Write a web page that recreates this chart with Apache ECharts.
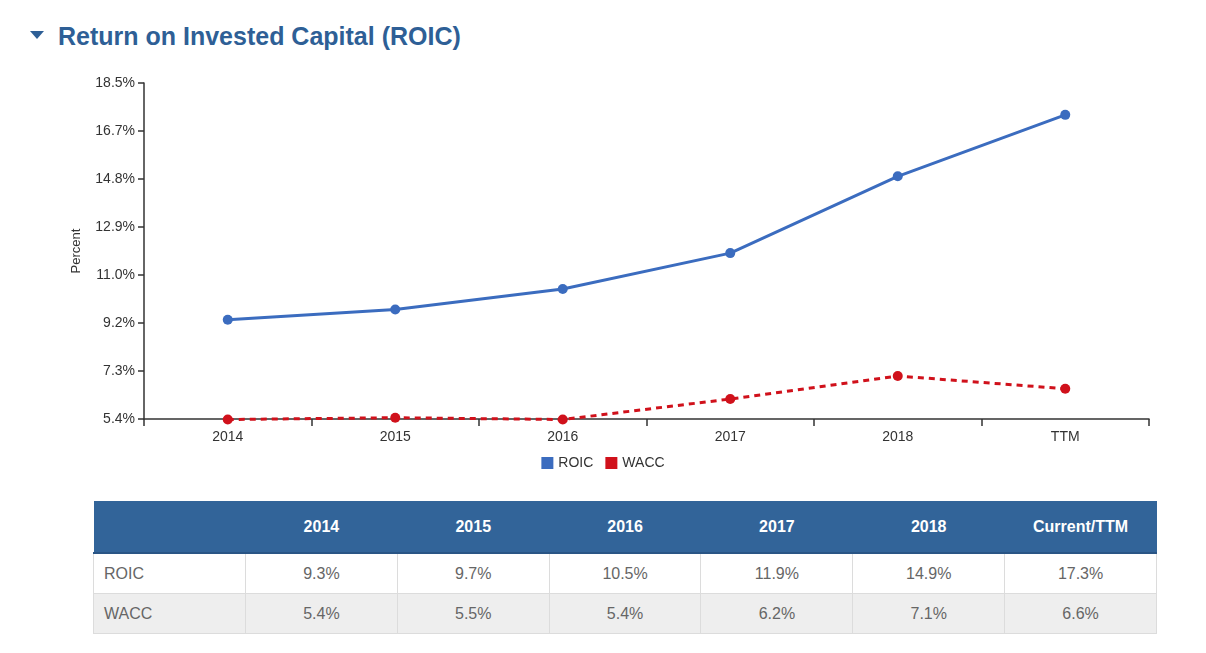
<!DOCTYPE html>
<html>
<head>
<meta charset="utf-8">
<script src="https://cdn.jsdelivr.net/npm/echarts@6/dist/echarts.min.js"></script>
<style>
  html, body { margin: 0; padding: 0; background: #fff; width: 1206px; height: 653px; overflow: hidden; font-family: "Liberation Sans", Arial, sans-serif; }
  #title { position: absolute; left: 30px; top: 22px; color: #2e5f96; font-weight: bold; font-size: 25px; font-family: "Liberation Sans", Arial, sans-serif; }
  #title .tri { display: inline-block; width: 0; height: 0; border-left: 7px solid transparent; border-right: 7px solid transparent; border-top: 8px solid #2e5f96; margin-right: 14px; vertical-align: middle; position: relative; top: -3px; }
  #chart { position: absolute; left: 0; top: 60px; width: 1206px; height: 425px; }
  #tbl { position: absolute; left: 93px; top: 501px; width: 1064px; border-collapse: collapse; font-family: "Liberation Sans", Arial, sans-serif; font-size: 16px; table-layout: fixed; }
  #tbl th { background: #326499; color: #fff; font-weight: bold; height: 51px; padding: 0; text-align: center; border-bottom: 2px solid #2a5585; }
  #tbl td { height: 39px; padding: 0; color: #666; text-align: center; border: 1px solid #dcdcdc; }
  #tbl td.lab { text-align: left; padding-left: 10px; }
  #tbl tr.alt td { background: #eeeeee; }
</style>
</head>
<body>
<div id="title"><span class="tri"></span>Return on Invested Capital (ROIC)</div>
<div id="chart"></div>
<table id="tbl"></table>
<script>
const categories = ['2014', '2015', '2016', '2017', '2018', 'TTM'];
const tableHeaders = ['2014', '2015', '2016', '2017', '2018', 'Current/TTM'];
const roic = [9.3, 9.7, 10.5, 11.9, 14.9, 17.3];
const wacc = [5.4, 5.47, 5.4, 6.2, 7.1, 6.6];
const yMin = 5.42, yMax = 18.545, yInterval = 1.875;

const chart = echarts.init(document.getElementById('chart'));
chart.setOption({
  animation: false,
  textStyle: { fontFamily: 'Liberation Sans, Arial, sans-serif' },
  grid: { left: 144, right: 57, top: 23, bottom: 66 },
  legend: {
    bottom: 10, left: 'center', itemWidth: 12, itemHeight: 12, itemGap: 12,
    icon: 'rect',
    textStyle: { color: '#333', fontSize: 14 },
    data: ['ROIC', 'WACC']
  },
  xAxis: {
    type: 'category', data: categories, boundaryGap: true,
    axisLine: { lineStyle: { color: '#333', width: 1.5 } },
    axisTick: { show: true, length: 7, lineStyle: { color: '#333', width: 1.5 } },
    axisLabel: { color: '#333', fontSize: 14, margin: 11 },
    splitLine: { show: false }
  },
  yAxis: {
    type: 'value', min: yMin, max: yMax, interval: yInterval,
    name: 'Percent', nameLocation: 'middle', nameGap: 61, nameRotate: 90,
    nameTextStyle: { color: '#333', fontSize: 13 },
    axisLine: { show: true, lineStyle: { color: '#333', width: 1.5 } },
    axisTick: { show: true, length: 6, lineStyle: { color: '#333', width: 1.5 } },
    axisLabel: { color: '#333', fontSize: 14, margin: 9, formatter: v => v.toFixed(1) + '%' },
    splitLine: { show: false }
  },
  series: [
    {
      name: 'ROIC', type: 'line', data: roic, clip: false,
      symbol: 'circle', symbolSize: 10,
      itemStyle: { color: '#3b6cbf' },
      lineStyle: { color: '#3b6cbf', width: 3 }
    },
    {
      name: 'WACC', type: 'line', data: wacc, clip: false,
      symbol: 'circle', symbolSize: 10,
      itemStyle: { color: '#d0111b' },
      lineStyle: { color: '#d0111b', width: 3, type: [6, 5] }
    }
  ]
});

const fmt = v => v.toFixed(1) + '%';
let html = '<colgroup><col style="width:152px">' + tableHeaders.map(() => '<col>').join('') + '</colgroup>';
html += '<tr><th></th>' + tableHeaders.map(h => '<th>' + h + '</th>').join('') + '</tr>';
html += '<tr><td class="lab">ROIC</td>' + roic.map(v => '<td>' + fmt(v) + '</td>').join('') + '</tr>';
html += '<tr class="alt"><td class="lab">WACC</td>' + wacc.map(v => '<td>' + fmt(v) + '</td>').join('') + '</tr>';
document.getElementById('tbl').innerHTML = html;
</script>
</body>
</html>
